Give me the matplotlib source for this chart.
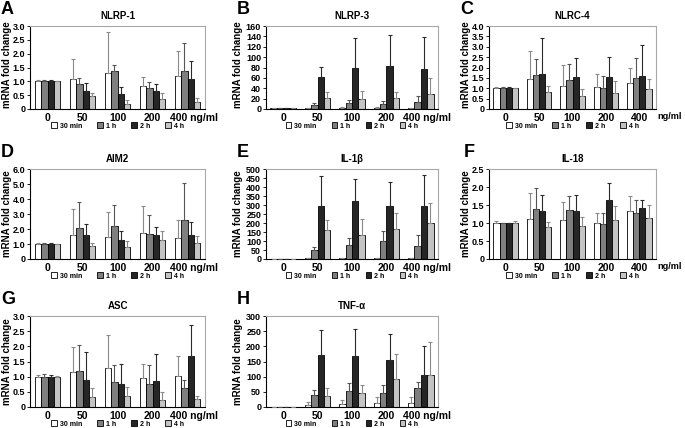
import numpy as np
import matplotlib
matplotlib.use("Agg")
from matplotlib import pyplot as plt
from matplotlib.patches import Patch
from matplotlib.transforms import ScaledTranslation

plt.rcParams['font.family'] = ['Liberation Sans', 'DejaVu Sans']
plt.rcParams['font.weight'] = 'bold'

doses = ['0', '50', '100', '200', '400']
series = ['30 min', '1 h', '2 h', '4 h']
colors = ['#ffffff', '#7f7f7f', '#262626', '#c4c4c4']
errcolors = ['#8a8a8a', '#555555', '#2a2a2a', '#8a8a8a']

# rows = series (30 min, 1 h, 2 h, 4 h), cols = doses
nlrp1_mean = [[1.0, 1.08, 1.31, 0.83, 1.19], [1.0, 0.90, 1.39, 0.76, 1.39],
              [1.0, 0.65, 0.53, 0.66, 1.08], [1.0, 0.47, 0.19, 0.37, 0.25]]
nlrp1_err = [[0.04, 0.73, 1.49, 0.34, 0.91], [0.04, 0.21, 0.20, 0.23, 0.98],
             [0.05, 0.28, 0.28, 0.23, 0.65], [0.02, 0.12, 0.14, 0.20, 0.16]]

nlrp3_mean = [[1, 1, 2, 1, 1.5], [1, 8.4, 12, 10, 14],
              [1, 61, 79, 82, 78], [1, 22, 19, 21, 29]]
nlrp3_err = [[0.3, 1, 1, 2, 1], [0.3, 3, 6, 6, 11],
             [0.3, 20, 58, 60, 61], [0.3, 10, 16, 12, 31]]

nlrc4_mean = [[1.0, 1.44, 1.13, 1.08, 1.24], [1.0, 1.65, 1.41, 1.00, 1.51],
              [1.0, 1.69, 1.55, 1.55, 1.60], [1.0, 0.82, 0.61, 0.75, 0.94]]
nlrc4_err = [[0.06, 1.34, 0.97, 0.60, 0.72], [0.06, 0.78, 0.74, 0.60, 0.95],
             [0.06, 1.73, 0.91, 0.96, 1.49], [0.03, 0.31, 0.33, 0.61, 0.50]]

aim2_mean = [[1.0, 1.59, 1.48, 1.74, 1.43], [1.0, 2.10, 2.19, 1.70, 2.58],
             [1.0, 1.59, 1.30, 1.57, 1.57], [1.0, 0.86, 0.82, 1.28, 1.04]]
aim2_err = [[0.05, 1.76, 1.65, 1.79, 1.15], [0.08, 1.70, 1.39, 1.26, 2.50],
            [0.06, 0.77, 0.55, 0.57, 0.88], [0.03, 0.24, 0.35, 0.60, 0.51]]

il1b_mean = [[1, 3, 3, 3, 3], [1, 48, 78, 100, 74],
             [1, 292, 320, 297, 297], [1, 162, 134, 165, 201]]
il1b_err = [[0.5, 1, 1, 1, 1], [0.5, 19, 37, 58, 60],
            [0.5, 167, 124, 131, 171], [0.5, 55, 87, 93, 109]]

il18_mean = [[1.0, 1.11, 1.08, 0.99, 1.32], [1.0, 1.39, 1.35, 0.96, 1.27],
             [1.0, 1.32, 1.34, 1.65, 1.43], [1.0, 0.88, 0.92, 1.07, 1.13]]
il18_err = [[0.06, 0.71, 0.50, 0.28, 0.43], [0.0, 0.59, 0.40, 0.31, 0.36],
            [0.0, 0.45, 0.43, 0.47, 0.20], [0.06, 0.14, 0.26, 0.41, 0.38]]

asc_mean = [[1.0, 1.14, 1.28, 0.94, 1.03], [1.0, 1.18, 0.84, 0.77, 0.64],
            [1.0, 0.88, 0.77, 0.85, 1.68], [1.0, 0.34, 0.37, 0.23, 0.25]]
asc_err = [[0.06, 0.84, 1.09, 0.49, 0.66], [0.09, 0.88, 0.56, 0.63, 0.26],
           [0.06, 0.92, 0.66, 0.89, 1.02], [0.03, 0.27, 0.29, 0.27, 0.11]]

tnfa_mean = [[1, 7, 11, 14, 14], [1, 41, 54, 45, 64],
             [1, 171, 169, 156, 104], [1, 36, 47, 93, 104]]
tnfa_err = [[0.3, 9, 11, 20, 19], [0.3, 14, 26, 26, 20],
            [0.3, 84, 89, 84, 97], [0.3, 27, 27, 81, 111]]

W, H = 685, 428
fig = plt.figure(figsize=(W / 100, H / 100), dpi=100)

# axes boxes in pixels: left, right / top, bottom
cols = [(30, 205), (266, 438), (489, 656)]
rows = [(26, 109), (169, 259), (316, 407)]
ylab_off = [18, 23, 18]


def make_ax(r, c):
    x0, x1 = cols[c]
    y0, y1 = rows[r]
    return fig.add_axes([x0 / W, 1 - y1 / H, (x1 - x0) / W, (y1 - y0) / H])


def draw_panel(r, c, letter, title, means, errs, ymax, ystep, fmt, ngml_sep=False):
    ax = make_ax(r, c)
    w = 0.185
    x = np.arange(len(doses))
    for i in range(4):
        ax.bar(x + (i - 1.5) * w, means[i], w, color=colors[i],
               edgecolor='black', linewidth=0.6, zorder=2)
        ax.errorbar(x + (i - 1.5) * w, means[i],
                    yerr=[np.zeros(len(doses)), errs[i]], fmt='none',
                    ecolor=errcolors[i], elinewidth=0.8, capsize=1.5,
                    capthick=0.8, zorder=3)
    ax.set_xlim(-0.5, 4.5)
    ax.set_ylim(0, ymax)
    ticks = np.arange(0, ymax + ystep / 2, ystep)
    ax.set_yticks(ticks)
    ax.set_yticklabels(['0'] + [fmt.format(t) for t in ticks[1:]])
    ax.tick_params(axis='y', labelsize=6.5, length=2, width=0.6, pad=1.5)
    ax.tick_params(axis='x', labelsize=7.5, length=0, pad=3)
    ax.set_xticks(x)
    labels = doses[:-1] + ([doses[-1]] if ngml_sep else [doses[-1] + ' ng/ml'])
    ax.set_xticklabels(labels)
    if not ngml_sep:
        lab = ax.get_xticklabels()[-1]
        lab.set_transform(lab.get_transform() + ScaledTranslation(6 / 100, 0, fig.dpi_scale_trans))
    else:
        ax.text(1.01, -0.035, 'ng/ml', transform=ax.transAxes, ha='left', va='top',
                fontsize=6.6, fontweight='bold')
    for s in ['left', 'bottom']:
        ax.spines[s].set_color('black')
        ax.spines[s].set_linewidth(0.8)
    for s in ['top', 'right']:
        ax.spines[s].set_color('#a8a8a8')
        ax.spines[s].set_linewidth(0.8)
    ax.set_title(title, fontsize=7, fontweight='bold', pad=5)
    ax.set_ylabel('mRNA fold change', fontsize=7, fontweight='bold')
    ax.yaxis.set_label_coords(-ylab_off[c] / (cols[c][1] - cols[c][0]),
                              0.54 if r == 0 else 0.5)
    handles = [Patch(facecolor=colors[i], edgecolor='black', linewidth=0.6) for i in range(4)]
    ax.legend(handles, series, loc='center', ncol=4, frameon=False,
              bbox_to_anchor=(0.5, -17 / (rows[r][1] - rows[r][0])),
              fontsize=5, handlelength=0.8, handleheight=0.8, handletextpad=0.4,
              columnspacing=2.2, borderaxespad=0)
    fig.text((cols[c][0] - 29 + (4 if c == 2 and r == 1 else 0)) / W,
             1 - (rows[r][0] - 25) / H, letter, fontsize=13, fontweight='bold',
             ha='left', va='top')
    return ax


draw_panel(0, 0, 'A', 'NLRP-1', nlrp1_mean, nlrp1_err, 3.0, 0.5, '{:.1f}')
draw_panel(0, 1, 'B', 'NLRP-3', nlrp3_mean, nlrp3_err, 160, 20, '{:.0f}')
draw_panel(0, 2, 'C', 'NLRC-4', nlrc4_mean, nlrc4_err, 4.0, 0.5, '{:.1f}', ngml_sep=True)
draw_panel(1, 0, 'D', 'AIM2', aim2_mean, aim2_err, 6.0, 1.0, '{:.1f}')
draw_panel(1, 1, 'E', 'IL-1β', il1b_mean, il1b_err, 500, 50, '{:.0f}')
draw_panel(1, 2, 'F', 'IL-18', il18_mean, il18_err, 2.5, 0.5, '{:.1f}', ngml_sep=True)
draw_panel(2, 0, 'G', 'ASC', asc_mean, asc_err, 3.0, 0.5, '{:.1f}')
draw_panel(2, 1, 'H', 'TNF-α', tnfa_mean, tnfa_err, 300, 50, '{:.0f}')

fig.savefig('out.png', dpi=100)
